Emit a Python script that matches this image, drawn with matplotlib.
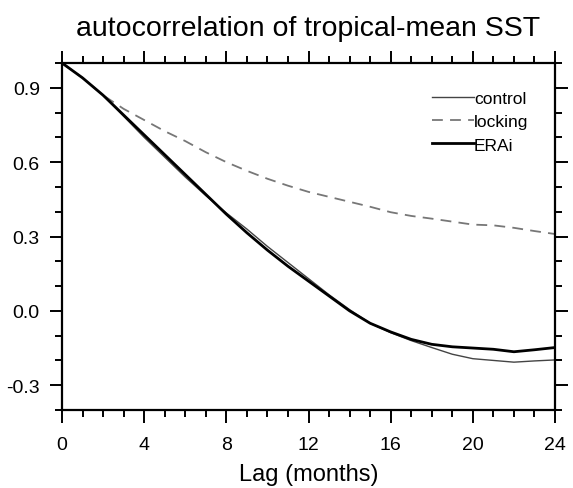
import matplotlib
matplotlib.use("Agg")
import matplotlib.pyplot as plt
from matplotlib.ticker import MultipleLocator

plt.rcParams['font.family'] = ['Liberation Sans', 'DejaVu Sans']

lag = list(range(0, 25))
control = [1.0, 0.94, 0.87, 0.785, 0.70, 0.62, 0.54, 0.465, 0.395, 0.33, 0.26,
           0.195, 0.13, 0.065, 0.005, -0.05, -0.088, -0.12, -0.148, -0.175,
           -0.193, -0.200, -0.207, -0.202, -0.198]
locking = [1.0, 0.94, 0.87, 0.815, 0.77, 0.725, 0.685, 0.64, 0.60, 0.565, 0.533,
           0.505, 0.48, 0.46, 0.44, 0.42, 0.398, 0.383, 0.372, 0.36, 0.348,
           0.345, 0.335, 0.322, 0.31]
erai = [1.0, 0.94, 0.87, 0.79, 0.71, 0.63, 0.55, 0.47, 0.39, 0.315, 0.245,
        0.18, 0.12, 0.06, 0.0, -0.05, -0.085, -0.115, -0.135, -0.145, -0.15,
        -0.155, -0.165, -0.157, -0.148]
yticks = [-0.3, 0.0, 0.3, 0.6, 0.9]
yticklabels = ['-0.3', '0.0', '0.3', '0.6', '0.9']

fig = plt.figure(figsize=(5.73, 4.89), dpi=100)
ax = fig.add_axes([62/573, 1-411/489, (555-62)/573, (411-64)/489])

ax.plot(lag, control, color='#444444', lw=1.0, label='control')
ax.plot(lag, locking, color='#777777', lw=1.3, ls=(0, (6, 4)), label='locking')
ax.plot(lag, erai, color='black', lw=2.0, label='ERAi')

ax.set_xlim(0, 24)
ax.set_ylim(-0.4, 1.0)
ax.xaxis.set_major_locator(MultipleLocator(4))
ax.xaxis.set_minor_locator(MultipleLocator(1))
ax.yaxis.set_minor_locator(MultipleLocator(0.1))
ax.set_yticks(yticks)
ax.set_yticklabels(yticklabels)

for s in ax.spines.values():
    s.set_linewidth(1.6)
ax.tick_params(which='both', direction='out', top=True, right=True, width=1.4)
ax.tick_params(which='major', length=9)
ax.tick_params(which='minor', length=5)
ax.tick_params(axis='x', which='major', pad=10, labelsize=14)
ax.tick_params(axis='y', which='major', pad=7, labelsize=14)

ax.set_xlabel('Lag (months)', fontsize=17, labelpad=7)
ax.set_title('autocorrelation of tropical-mean SST', fontsize=20.5, pad=20)

leg = ax.legend(loc='upper right', bbox_to_anchor=(0.96, 0.94), frameon=False,
                fontsize=12.5, handlelength=2.4, handletextpad=0.0,
                labelspacing=0.47, borderaxespad=0)

fig.savefig('out.png', dpi=100)
